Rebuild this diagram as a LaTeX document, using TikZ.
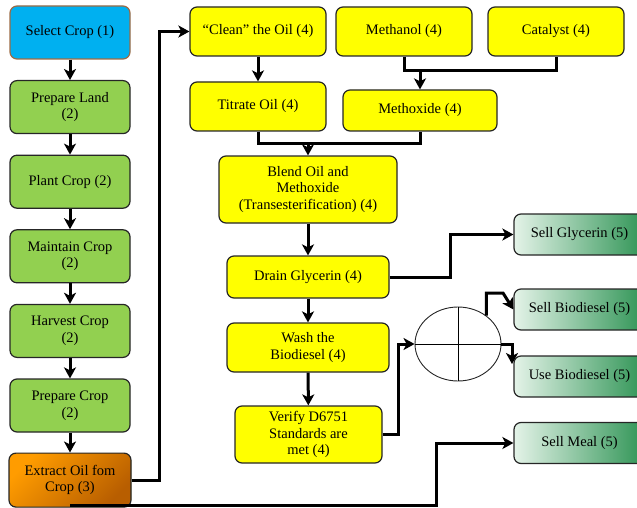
\documentclass[tikz,border=0pt]{standalone}
\usepackage{fontspec}
\setmainfont{Liberation Serif}
\newfontfamily\boxfont{Liberation Serif}
\usetikzlibrary{arrows.meta,positioning,shapes.geometric}
\definecolor{cropblue}{HTML}{00B0F0}
\definecolor{cropedge}{HTML}{9C6B45}
\definecolor{cropgreen}{HTML}{92D050}
\definecolor{oilyellow}{HTML}{FFFF00}
\definecolor{oilorange}{HTML}{FF9C00}
\definecolor{oilmid}{HTML}{F29100}
\definecolor{oilbrown}{HTML}{B85E00}
\definecolor{selllight}{HTML}{E4F3E8}
\definecolor{sellmid}{HTML}{58AF74}
\definecolor{selldark}{HTML}{2F9455}
\definecolor{edge}{HTML}{262626}

\begin{document}
\begin{tikzpicture}[x=1pt,y=-1pt,
	font=\boxfont\fontsize{14.5}{16.5}\selectfont,
	box/.style = {draw=edge, line width=1.2pt, rounded corners=7pt, align=center, inner sep=0pt},
	crop/.style = {box, fill=cropgreen, minimum width=120pt, minimum height=53pt},
	oil/.style = {box, fill=oilyellow},
	sell/.style = {box, left color=selllight, middle color=sellmid, right color=selldark, minimum width=131pt, minimum height=41pt},
	arr/.style = {line width=3pt, -{Stealth[length=11pt,width=12pt,inset=3pt]}},
	link/.style = {line width=3pt},
	node distance=74.6pt]
	\useasboundingbox (0,0) rectangle (637,508);
	% crop side
	\node[crop, fill=cropblue, draw=cropedge] (1) at (70,32.5) {Select Crop (1)};
	\node[crop] (2) [below of=1] {Prepare Land\\(2)};
	\node[crop] (3) [below of=2] {Plant Crop (2)};
	\node[crop] (4) [below of=3] {Maintain Crop\\(2)};
	\node[crop] (5) [below of=4] {Harvest Crop\\(2)};
	\node[crop] (6) [below of=5] {Prepare Crop\\(2)};
	\node[crop, minimum width=122pt, minimum height=54pt, left color=oilorange, middle color=oilmid, right color=oilbrown, shading angle=45] (7) [below of=6] {Extract Oil fom\\Crop (3)};
	% oil side
	\node[oil, minimum width=136pt, minimum height=49pt] (clean) at (258,31.5) {“Clean” the Oil (4)};
	\node[oil, minimum width=136pt, minimum height=49pt] (methanol) at (404,31.5) {Methanol (4)};
	\node[oil, minimum width=136pt, minimum height=49pt] (catalyst) at (556,31.5) {Catalyst (4)};
	\node[oil, minimum width=136pt, minimum height=49pt] (titrate) at (258,106.5) {Titrate Oil (4)};
	\node[oil, minimum width=154pt, minimum height=41pt] (methoxide) at (420,110.5) {Methoxide (4)};
	\node[oil, minimum width=178pt, minimum height=67pt] (blend) at (308,189.5) {Blend Oil and\\Methoxide\\(Transesterification) (4)};
	\node[oil, minimum width=162pt, minimum height=42pt] (drain) at (308,277) {Drain Glycerin (4)};
	\node[oil, minimum width=162pt, minimum height=49pt] (wash) at (308,347.5) {Wash the\\Biodiesel (4)};
	\node[oil, minimum width=147pt, minimum height=57pt] (verify) at (308.5,434.5) {Verify D6751\\Standards are\\met (4)};
	\node[draw=edge, ellipse, line width=0.9pt, minimum width=86pt, minimum height=74pt, inner sep=0pt] (split) at (458,344) {};
	% products
	\node[sell] (glycerin) at (579.5,234.5) {Sell Glycerin (5)};
	\node[sell] (biodiesel) at (579.5,309.5) {Sell Biodiesel (5)};
	\node[sell] (use) at (579.5,376.5) {Use Biodiesel (5)};
	\node[sell] (meal) at (579.5,443) {Sell Meal (5)};
	% bends
	\coordinate (feed) at (159,31.5);
	\coordinate (mix) at (420,71);
	\coordinate (join) at (308,144);
	\coordinate (mealup) at (436,443);
	\coordinate (glyup) at (450,234.5);
	\coordinate (verup) at (398,344);
	\coordinate (biobend) at (503,293);
	\coordinate (usetip) at (512,364);
	\draw[line width=0.9pt] (split.north) -- (split.south) (split.west) -- (split.east);
	\draw[arr] (1) -- (2);
	\draw[arr] (2) -- (3);
	\draw[arr] (3) -- (4);
	\draw[arr] (4) -- (5);
	\draw[arr] (5) -- (6);
	\draw[arr] (6) -- (7);
	\draw[arr] (7.east) -| (feed) -- (clean);
	\draw[arr] ([yshift=2pt]7.south) -| (mealup) -- (meal);
	\draw[arr] (clean) -- (titrate);
	\draw[link] (methanol) |- (mix) -| (catalyst);
	\draw[arr] (mix) -- (methoxide);
	\draw[link] (titrate) |- (join) -| (methoxide);
	\draw[arr] (join) -- (blend);
	\draw[arr] (blend) -- (drain);
	\draw[arr] (drain) -- (wash);
	\draw[arr] (wash) -- (verify);
	\draw[arr] (drain) -| (glyup) -- (glycerin);
	\draw[arr] (verify) -| (verup) -- (split);
	\draw[arr] (split.45) |- (biobend) -- (biodiesel.west);
	\draw[arr] (split.east) -| (usetip);
\end{tikzpicture}
\end{document}
